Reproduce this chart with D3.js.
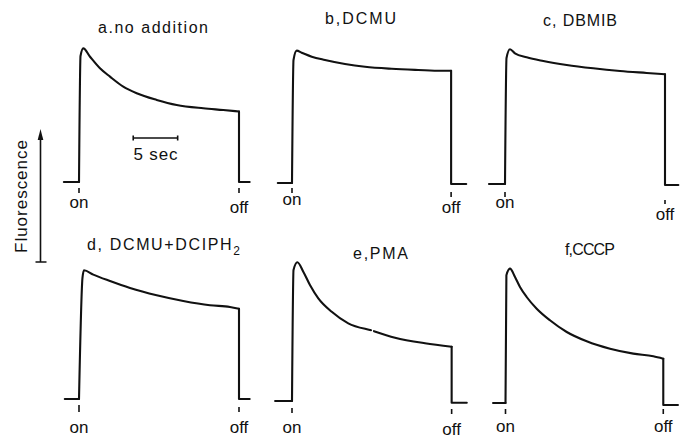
<!DOCTYPE html>
<html>
<head>
<meta charset="utf-8">
<script src="https://cdn.jsdelivr.net/npm/d3@7"></script>
<style>
  body { margin: 0; background: #fff; }
  text { font-family: "Liberation Sans", Arial, sans-serif; fill: #111; }
</style>
</head>
<body>
<div id="chart"></div>
<script>
// titles of the six traces (subscript kept apart)
const titles = ["a.no addition", "b,DCMU", "c, DBMIB", "d, DCMU+DCIPH", "e,PMA", "f,CCCP"];
const subscripts = ["", "", "", "2", "", ""];

// dark level before light on / after light off (s relative to on / off)
const darkBefore = [-1.7, -1.6, -1.8, -1.6, -1.9, -1.4];
const darkAfter = [1.2, 1.7, 1.5, 1.2, 1.7, 1.65];
const afterLevel = [0, -0.8, -0.8, 0, -1.3, -1.5];

// light period traces: [time s, fluorescence rel.]
const traceA = [[0, 0], [0.17, 94.7], [0.48, 100.5], [1.24, 94.2], [2.36, 85.5], [3.49, 79.2], [4.98, 71.7],
  [6.49, 66.7], [8.74, 61.7], [10.99, 57.9], [13.98, 55.4], [16.23, 54.1], [18.0, 53]];
const traceB = [[0, 0], [0.17, 92.5], [0.53, 99.5], [1.09, 98], [2.22, 95], [3.71, 92.5], [5.96, 89.5],
  [8.21, 87.4], [11.21, 85.9], [14.2, 85], [16.84, 84.4], [17.9, 84.4]];
const traceC = [[0, 0], [0.17, 94.7], [0.56, 101.3], [1.12, 98.3], [2.44, 95.3], [4.31, 92.5], [6.94, 89.5],
  [9.93, 87], [12.94, 85], [15.94, 83.5], [18.0, 82.5]];
const traceD = [[0, 0], [0.39, 91], [0.56, 96.8], [1.61, 93.5], [3.49, 88.7], [5.74, 83.5], [8.74, 78],
  [11.73, 73.7], [14.73, 70.5], [16.98, 69.2], [18.0, 67.9]];
const traceE = [[0, 0], [0.17, 98.5], [0.6, 104.3], [1.27, 97.2], [2.02, 87.2], [2.96, 77.2], [4.47, 67.1],
  [6.33, 58.4], [8.77, 53.4], [8.89, 53.2], null, [9.22, 52.5], [11.59, 47.6], [14.96, 43.4], [17.96, 40.8]];
const traceF = [[0, 0], [0.1, 96], [0.51, 101], [1.07, 94.7], [1.63, 87.2], [2.38, 79.7], [3.51, 70.9],
  [5.0, 62.2], [6.89, 53.4], [9.14, 46.4], [11.76, 40.8], [14.38, 37.1], [16.63, 35.1], [17.75, 33.3]];
const traces = [traceA, traceB, traceC, traceD, traceE, traceF];

const scaleBarSeconds = 5;
const scaleBarStart = 6.1;
const axisTitle = "Fluorescence";

// where each panel sits: light-on point, title, tick and label offsets
const layout = [
  { x: 79, y: 182, title: [153, 33, 110], on: [6, 11, 26], off: [6, 11, 31] },
  { x: 292, y: 183, title: [360.5, 24, 71], on: [5, 10, 22], off: [9, 14, 30] },
  { x: 505, y: 184, title: [580, 26, 74], on: [8, 13, 24], off: [16, 20, 36] },
  { x: 79, y: 399, title: [163.5, 250, 153], on: [6, 13, 34], off: [8, 13, 34] },
  { x: 292, y: 401, title: [380.5, 259, 55], on: [7, 12, 32], off: [8, 13, 34] },
  { x: 505.5, y: 403, title: [590, 255, 50], on: [6, 11, 29], off: [6, 11, 29] }
];

const svg = d3.select("#chart").append("svg")
  .attr("width", 686)
  .attr("height", 439);

const x = d3.scaleLinear().domain([0, 18]).range([0, 160]);
const y = d3.scaleLinear().domain([0, 100]).range([0, -133]);

const smooth = d3.line()
  .defined(d => d)
  .x(d => x(d[0]))
  .y(d => y(d[1]))
  .curve(d3.curveMonotoneX);
const straight = d3.line().x(d => x(d[0])).y(d => y(d[1]));

const ink = "#111";

traces.forEach((trace, i) => {
  const L = layout[i];
  const g = svg.append("g").attr("transform", `translate(${L.x},${L.y})`);
  const last = trace[trace.length - 1];

  g.selectAll("path")
    .data([
      straight([[darkBefore[i], 0], [0, 0]]),
      smooth(trace),
      straight([last, [last[0], afterLevel[i]], [last[0] + darkAfter[i], afterLevel[i]]])
    ])
    .enter()
    .append("path")
    .attr("d", d => d)
    .attr("fill", "none")
    .attr("stroke", ink)
    .attr("stroke-width", 2.1)
    .attr("stroke-linecap", "round")
    .attr("stroke-linejoin", "round");

  [[0, L.on, "on"], [last[0], L.off, "off"]].forEach(([t, o, label]) => {
    g.append("line")
      .attr("x1", x(t)).attr("x2", x(t))
      .attr("y1", o[0]).attr("y2", o[1])
      .attr("stroke", ink)
      .attr("stroke-width", 1.6);
    g.append("text")
      .attr("x", x(t))
      .attr("y", o[2])
      .attr("text-anchor", "middle")
      .attr("font-size", 17)
      .text(label);
  });

  const title = svg.append("text")
    .attr("x", L.title[0])
    .attr("y", L.title[1])
    .attr("text-anchor", "middle")
    .attr("font-size", 16)
    .attr("textLength", L.title[2])
    .attr("lengthAdjust", "spacing")
    .text(titles[i]);
  if (subscripts[i]) {
    title.append("tspan")
      .attr("dy", 5)
      .attr("font-size", 12)
      .text(subscripts[i]);
  }

  // scale bar lives in panel a
  if (i === 0) {
    const x0 = x(scaleBarStart), x1 = x(scaleBarStart + scaleBarSeconds);
    g.append("path")
      .attr("d", `M${x0},-46.5V-41.5M${x0},-44H${x1}M${x1},-46.5V-41.5`)
      .attr("fill", "none")
      .attr("stroke", ink)
      .attr("stroke-width", 1.6);
    g.append("text")
      .attr("x", (x0 + x1) / 2)
      .attr("y", -22)
      .attr("text-anchor", "middle")
      .attr("font-size", 17)
      .attr("textLength", 44)
      .attr("lengthAdjust", "spacing")
      .text(scaleBarSeconds + " sec");
  }
});

// fluorescence arrow
const arrow = svg.append("g");
arrow.append("path")
  .attr("d", "M40.5,262V138M35.5,262H46.5")
  .attr("stroke", ink)
  .attr("stroke-width", 1.6)
  .attr("fill", "none");
arrow.append("path")
  .attr("d", "M40.5,129L43.3,140L37.7,140Z")
  .attr("fill", ink);
arrow.append("text")
  .attr("transform", "translate(27,196.5) rotate(-90)")
  .attr("text-anchor", "middle")
  .attr("font-size", 17)
  .attr("textLength", 113)
  .attr("lengthAdjust", "spacing")
  .text(axisTitle);
</script>
</body>
</html>
